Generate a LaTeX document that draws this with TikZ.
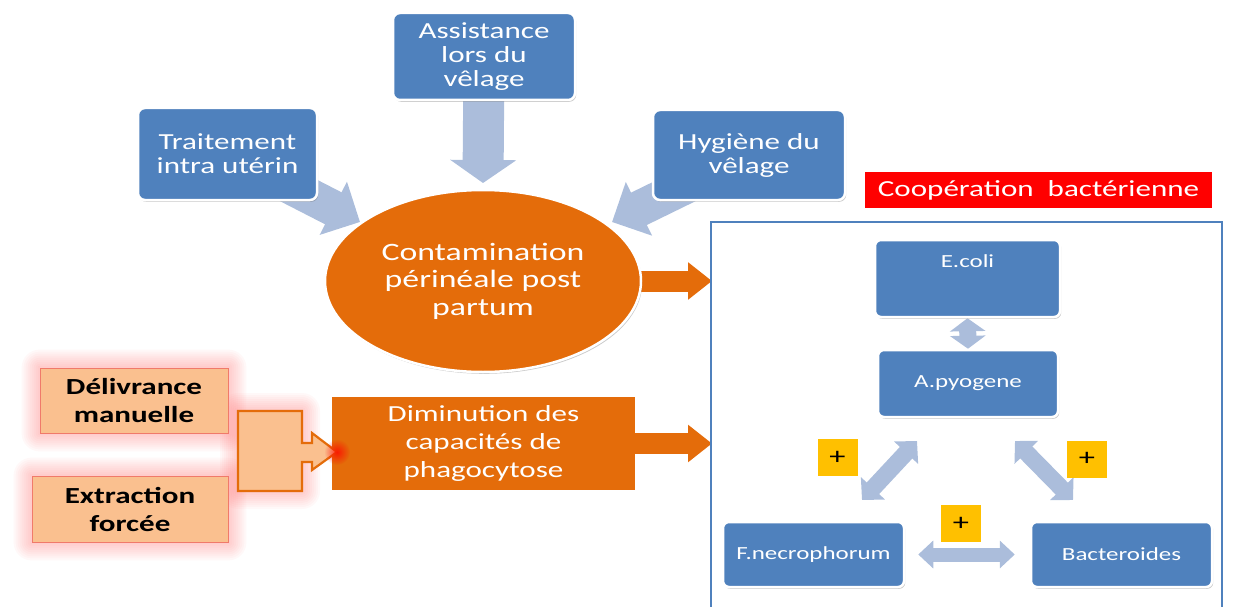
\documentclass[tikz,border=0pt]{standalone}
\usepackage{fontspec}
\setmainfont{Carlito}[FakeStretch=1.35]
\usetikzlibrary{arrows.meta,shapes.geometric,shadows,calc,fadings}
\definecolor{boxblue}{HTML}{4F81BD}
\definecolor{paleblue}{HTML}{ABBDDB}
\definecolor{burnt}{HTML}{E46C0A}
\definecolor{peach}{HTML}{FAC08F}
\definecolor{gold}{HTML}{FFC000}
\definecolor{rim}{HTML}{F07A6A}
\tikzfading[name=softspot, inner color=transparent!0, outer color=transparent!100]
\pgfdeclarelayer{glow}
\pgfdeclarelayer{under}
\pgfsetlayers{glow,under,main}
\tikzset{
  softshadow/.style={drop shadow={shadow xshift=1.2pt, shadow yshift=-1.8pt, opacity=0.35, fill=black!60}},
  cause/.style={rectangle, rounded corners=7pt, fill=boxblue, draw=white, line width=2.5pt,
    softshadow, text=white, align=center, font=\fontsize{23}{24}\selectfont, inner sep=2pt},
  germ/.style={rectangle, rounded corners=6pt, fill=boxblue, draw=white, line width=2.5pt,
    softshadow, text=white, align=center, font=\fontsize{18.5}{22}\selectfont, inner sep=2pt},
  effect/.style={rectangle, fill=burnt, text=white, align=center, font=\fontsize{23}{28}\selectfont, inner sep=0pt},
  risk/.style={rectangle, fill=peach, draw=rim, line width=0.8pt, text=black, align=center,
    font=\bfseries\fontsize{23}{28}\selectfont, inner sep=0pt},
  plusbox/.style={rectangle, fill=gold, minimum width=40pt, minimum height=37pt,
    font=\fontsize{24}{24}\selectfont, inner sep=0pt},
  feed/.style={draw=paleblue, line width=36pt, -{Triangle[width=58pt,length=30pt]}},
  push/.style={draw=burnt, line width=21pt, -{Triangle[width=36pt,length=24pt]}},
  link/.style={draw=paleblue, line width=17pt,
    {Triangle[width=32pt,length=16pt]}-{Triangle[width=32pt,length=16pt]}},
}
\begin{document}
\begin{tikzpicture}[x=1pt,y=-1pt]
\useasboundingbox (0,0) rectangle (1236,607);

% --- causes feeding the contamination ---
\node[cause, minimum width=182pt, minimum height=87pt] (assist) at (484,56.5) {Assistance\\lors du\\vêlage};
\node[cause, minimum width=179pt, minimum height=92pt] (trait) at (227.5,154) {Traitement\\intra utérin};
\node[cause, minimum width=192pt, minimum height=90pt] (hyg) at (749,155) {Hygiène du\\vêlage};

\node[ellipse, fill=burnt, draw=white, line width=2.5pt, softshadow, minimum width=316pt,
  minimum height=182pt, text=white, align=center, font=\fontsize{25}{27.5}\selectfont,
  inner sep=0pt] (ell) at (483,281) {Contamination\\périnéale post\\partum};

\coordinate (tipA) at (360,222);
\coordinate (tipB) at (483,183);
\coordinate (tipC) at (612,222);

\begin{pgfonlayer}{under}
  \draw[feed] (trait.center) -- (tipA);
  \draw[feed, line width=41pt, -{Triangle[width=65pt,length=23pt]}] (assist.center) -- (tipB);
  \draw[feed] (hyg.center) -- (tipC);
\end{pgfonlayer}

% --- lowered defences ---
\node[effect, minimum width=303pt, minimum height=93pt] (dimin) at (483.5,443.5)
  {Diminution des\\capacités de\\phagocytose};

\node[risk, minimum width=188pt, minimum height=65pt] (deliv) at (134,400.5) {Délivrance\\manuelle};
\node[risk, minimum width=196pt, minimum height=66pt] (extr) at (130,509) {Extraction\\forcée};

\node[minimum width=64pt, minimum height=80pt, inner sep=0pt, outer sep=0pt] (gate) at (270,451) {};
\coordinate (gtip) at (337,452);

% soft red halo round the obstetric risk factors
\begin{pgfonlayer}{glow}
  \foreach \n in {deliv,extr,gate} {
    \foreach \r in {2,4,...,18} {
      \fill[red!65, opacity=0.04, rounded corners=\r*1pt]
        ($(\n.south west)+(-\r*1pt,-\r*1pt)$) rectangle ($(\n.north east)+(\r*1pt,\r*1pt)$);
    }
  }
\end{pgfonlayer}

\draw[fill=peach, draw=burnt, line width=2.2pt, line join=miter]
  (gate.north west) -- (gate.north east) -- ++(0pt,-32pt) -- ++(10pt,0pt) -- ++(0pt,10pt)
  -- (gtip) -- ++(-25pt,-18pt) -- ++(0pt,8pt) -- ++(-10pt,0pt)
  -- (gate.south east) -- (gate.south west) -- cycle;
\fill[red, path fading=softspot, opacity=0.75] (gtip) circle (13pt);

% --- bacterial cooperation panel ---
\node[rectangle, fill=red, text=white, minimum width=347pt, minimum height=36pt, inner sep=0pt,
  font=\fontsize{23}{24}\selectfont] (coop) at (1038.5,190) {Coopération~~bactérienne};
\draw[boxblue, line width=2pt] (711,607) |- (1222,222) -- (1222,607);

\coordinate (tipD) at (712,281);
\coordinate (tipE) at (712,443.5);
\begin{pgfonlayer}{under}
  \draw[push] (ell.center) -- (tipD);
  \draw[push] (dimin.center) -- (tipE);
\end{pgfonlayer}

\node[germ, minimum width=185pt, minimum height=77pt, text height=14pt, text depth=37pt] (ecoli) at (967.5,278.5) {E.coli};
\node[germ, minimum width=180pt, minimum height=67pt] (apyo) at (968,383.5) {A.pyogene};
\node[germ, minimum width=181pt, minimum height=65pt] (fnec) at (813.5,554.5) {F.necrophorum};
\node[germ, minimum width=181pt, minimum height=65pt] (bact) at (1121.5,554.5) {Bacteroides};

\node[plusbox] (pl) at (837.5,457.5) {+};
\node[plusbox] (pr) at (1087,459) {+};
\node[plusbox] (pm) at (961,523.5) {+};

\coordinate (la1) at (917,441);
\coordinate (la2) at (862,500);
\coordinate (ra1) at (1015,441);
\coordinate (ra2) at (1073,500);

\begin{pgfonlayer}{under}
  \draw[link, line width=17pt, {Triangle[width=35pt,length=13pt]}-{Triangle[width=35pt,length=13pt]}]
    (ecoli.south) -- (apyo.north);
  \draw[link] (la1) -- (la2);
  \draw[link] (ra1) -- (ra2);
  \draw[link, line width=14pt, {Triangle[width=27pt,length=15pt]}-{Triangle[width=27pt,length=15pt]},
    shorten <=13pt, shorten >=15pt] (fnec.east) -- (bact.west);
\end{pgfonlayer}
\end{tikzpicture}
\end{document}
